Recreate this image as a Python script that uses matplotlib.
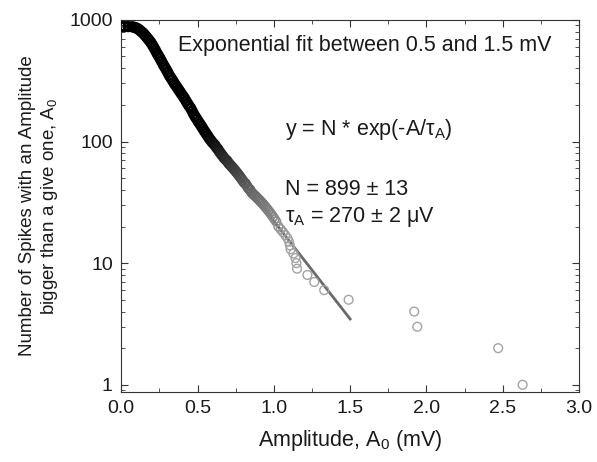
import numpy as np
import matplotlib.pyplot as plt
from matplotlib.ticker import MultipleLocator, LogLocator, NullFormatter

plt.rcParams['font.family'] = ['Liberation Sans', 'DejaVu Sans']
plt.rcParams['mathtext.default'] = 'regular'

# amplitude (mV) of each plotted spike and the number of spikes bigger than it
amp = [0.000, 0.020, 0.045, 0.070, 0.085, 0.095, 0.105, 0.115, 0.125, 0.135,
       0.145, 0.155, 0.165, 0.175, 0.185, 0.195, 0.205, 0.215, 0.225, 0.235,
       0.245, 0.255, 0.265, 0.275, 0.285, 0.295, 0.305, 0.315, 0.325, 0.335,
       0.345, 0.355, 0.365, 0.375, 0.385, 0.395, 0.405, 0.415, 0.425, 0.435,
       0.445, 0.455, 0.465, 0.475, 0.485, 0.495, 0.505, 0.515, 0.525, 0.535,
       0.545, 0.555, 0.565, 0.575, 0.585, 0.595, 0.605, 0.615, 0.625, 0.635,
       0.645, 0.655, 0.665, 0.675, 0.685, 0.695, 0.705, 0.715, 0.725, 0.735,
       0.745, 0.755, 0.765, 0.775, 0.785, 0.795, 0.805, 0.815, 0.825, 0.835,
       0.845, 0.855, 0.865, 0.875, 0.885, 0.895, 0.905, 0.915, 0.925, 0.935,
       0.945, 0.955, 0.965, 0.975, 0.985, 0.995, 1.005, 1.015, 1.030, 1.045,
       1.060, 1.075, 1.090, 1.100, 1.105, 1.110, 1.128, 1.142, 1.148, 1.152,
       1.220, 1.265, 1.330, 1.490, 1.920, 1.940, 2.470, 2.630]
count = [882, 881, 880, 878, 870, 862, 850, 835, 815, 795,
         775, 750, 725, 700, 675, 650, 620, 590, 560, 530,
         505, 480, 455, 430, 410, 390, 370, 350, 335, 320,
         305, 292, 280, 268, 257, 246, 236, 226, 215, 205,
         196, 188, 178, 168, 160, 153, 146, 140, 134, 128,
         122, 117, 112, 107, 103, 99, 96, 93, 89, 86,
         82, 79, 76, 73, 71, 69, 66, 64, 62, 60,
         58, 56, 54, 52, 50, 48, 46, 45, 43, 41,
         40, 38, 37, 36, 35, 34, 33, 32, 31, 30,
         29, 28, 27, 26, 25, 24, 23, 22, 20, 19,
         18, 17, 16, 15, 14, 13, 12, 11, 10, 9,
         8, 7, 6, 5, 4, 3, 2, 1]

# exponential fit parameters
N_fit = 899
tau_fit = 0.270
fit_range = [0.5, 1.5]

fig, ax = plt.subplots(figsize=(5.97, 4.62), dpi=100)
fig.subplots_adjust(left=0.203, right=0.970, bottom=0.152, top=0.957)

xf = np.linspace(fit_range[0], fit_range[1], 50)
ax.plot(xf, N_fit * np.exp(-xf / tau_fit), color='#6a6a6a', lw=2, zorder=2)

# crowded circles merge into a dark band where many spikes overlap
lc = np.log10(count)
shade = np.interp(lc, [1.2, 1.55, 2.05], [0.64, 0.42, 0.0])
widths = np.interp(lc, [1.2, 1.55, 2.05], [1.0, 1.3, 1.8])
edge = [(g, g, g) for g in shade]
ax.scatter(amp, count, s=40, facecolors='none', edgecolors=edge, linewidths=widths, zorder=3)

ax.set_yscale('log')
ax.set_xlim(0, 3.0)
ax.set_ylim(0.876, 1000)
ax.xaxis.set_major_locator(MultipleLocator(0.5))
ax.xaxis.set_minor_locator(MultipleLocator(0.25))
ax.yaxis.set_minor_locator(LogLocator(base=10, subs=np.arange(2, 10)))
ax.yaxis.set_minor_formatter(NullFormatter())
ax.set_yticks([1, 10, 100, 1000])
ax.set_yticklabels(['1', '10', '100', '1000'])
ax.tick_params(which='both', direction='in', top=True, right=True, labelsize=14,
               color='#333333', labelcolor='#1a1a1a')
ax.tick_params(which='major', length=5, pad=6)
ax.tick_params(which='minor', length=3)
for s in ax.spines.values():
    s.set_color('#333333')

ax.set_xlabel('Amplitude, A$_0$ (mV)', fontsize=15.5, labelpad=8, color='#1a1a1a')
ax.set_ylabel('Number of Spikes with an Amplitude\nbigger than a give one, A$_0$',
              fontsize=13.5, labelpad=7, color='#1a1a1a')

fs = 15.5
ax.text(0.123, 0.932, 'Exponential fit between 0.5 and 1.5 mV', transform=ax.transAxes,
        fontsize=fs, va='center', color='#1a1a1a')
ax.text(0.357, 0.704, 'y = N * exp(-A/\u03c4$_A$)', transform=ax.transAxes,
        fontsize=fs, va='center', color='#1a1a1a')
ax.text(0.357, 0.543, 'N = 899 \u00b1 13', transform=ax.transAxes,
        fontsize=fs, va='center', color='#1a1a1a')
ax.text(0.357, 0.470, '\u03c4$_A$ = 270 \u00b1 2 \u03bcV', transform=ax.transAxes,
        fontsize=fs, va='center', color='#1a1a1a')

fig.savefig('out.png', dpi=100)
